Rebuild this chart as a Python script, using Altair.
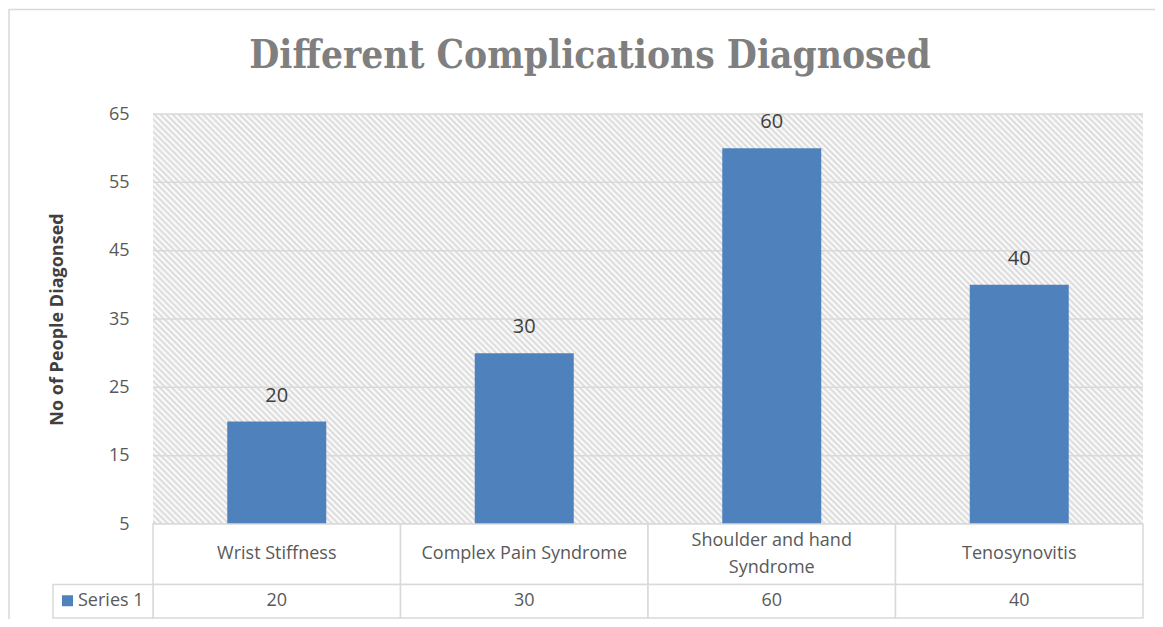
import altair as alt
import pandas as pd

# ---- data ----
categories = ["Wrist Stiffness", "Complex Pain Syndrome", "Shoulder and hand\nSyndrome", "Tenosynovitis"]
values = [20, 30, 60, 40]
series_name = ["Series 1"]
y_ticks = [5, 15, 25, 35, 45, 55, 65]
chart_title = ["Different Complications Diagnosed"]
y_title = "No of People Diagonsed"

# ---- layout / style ----
W, H = 990, 410
FONT = "Open Sans"
BAR = "#4f81bd"
GRID = "#d9d9d9"

# diagonal hatch for the plot background (45 degree "\" stripes)
h = H / W
a = (1 + h) / (1 + h * h)
period = 4.3
n = int(round((W + H) / 2 ** 0.5 / period))
stops = [{"offset": k / (2 * n), "color": "#ffffff" if k % 2 == 0 else "#d8d8d8"} for k in range(2 * n + 1)]
hatch = alt.LinearGradient(gradient="linear", x1=0, y1=1, x2=a, y2=1 - a * h, stops=stops)

df = pd.DataFrame({"cat": categories, "val": values})
one = pd.DataFrame({"s": series_name})
tdf = pd.DataFrame({"t": chart_title})
gdf = pd.DataFrame({"v": y_ticks})

xenc = alt.X("cat:N", sort=categories, scale=alt.Scale(paddingInner=0, paddingOuter=0), axis=None)
yscale = alt.Scale(domain=[5, 65], clamp=True, nice=False, zero=False)
base = alt.Chart(df)

R1_TOP, R1_BOT, R2_BOT = 410, 470.5, 504

border = alt.Chart(one).mark_rect(fill="transparent", stroke=GRID, strokeWidth=1.5).encode(
    x=alt.value(-144), x2=alt.value(1030), y=alt.value(-104.5), y2=alt.value(560)
)

bg = alt.Chart(one).mark_rect(fill=hatch).encode(
    x=alt.value(0), x2=alt.value(W), y=alt.value(0), y2=alt.value(H)
)

grid = alt.Chart(gdf).mark_rule(color=GRID, strokeWidth=1.5).encode(
    y=alt.Y("v:Q", scale=yscale), x=alt.value(0), x2=alt.value(W)
)

bars = base.mark_bar(color=BAR, width=alt.RelativeBandSize(band=0.4)).encode(
    x=xenc,
    y=alt.Y(
        "val:Q",
        scale=yscale,
        axis=alt.Axis(
            values=y_ticks,
            title=y_title,
            titleFont=FONT,
            titleFontWeight="bold",
            titleFontSize=18,
            titleColor="#404040",
            titleX=-96,
            titleY=205,
            titleAngle=270,
            titleAlign="center",
            titleBaseline="middle",
            labelFont=FONT,
            labelFontSize=18,
            labelColor="#595959",
            labelPadding=24,
            ticks=False,
            domain=False,
            grid=False,
        ),
    ),
)

vlabels = base.mark_text(dy=-26, fontSize=20, color="#404040", font=FONT, baseline="middle").encode(
    x=xenc, y="val:Q", text="val:Q"
)

row1 = base.mark_rect(fill="white", stroke=GRID, strokeWidth=1.5).encode(
    x=xenc, y=alt.value(R1_TOP), y2=alt.value(R1_BOT)
)
row2 = base.mark_rect(fill="white", stroke=GRID, strokeWidth=1.5).encode(
    x=xenc, y=alt.value(R1_BOT), y2=alt.value(R2_BOT)
)
scell = alt.Chart(one).mark_rect(fill="white", stroke=GRID, strokeWidth=1.5).encode(
    x=alt.value(-100), x2=alt.value(0), y=alt.value(R1_BOT), y2=alt.value(R2_BOT)
)

r1c = (R1_TOP + R1_BOT) / 2
r2c = (R1_BOT + R2_BOT) / 2

cat_text_1 = base.transform_filter("indexof(datum.cat, '\\n') < 0").mark_text(
    fontSize=18, color="#595959", font=FONT, baseline="middle"
).encode(x=xenc, y=alt.value(r1c), text="cat:N")

cat_text_2 = base.transform_filter("indexof(datum.cat, '\\n') >= 0").mark_text(
    fontSize=18, color="#595959", font=FONT, baseline="middle", lineBreak="\n", lineHeight=27
).encode(x=xenc, y=alt.value(r1c - 13.5), text="cat:N")

val_text = base.mark_text(fontSize=18, color="#595959", font=FONT, baseline="middle").encode(
    x=xenc, y=alt.value(r2c), text="val:Q"
)

swatch = alt.Chart(one).mark_square(size=121, color=BAR, opacity=1).encode(
    x=alt.value(-85.5), y=alt.value(r2c - 0.5)
)
stext = alt.Chart(one).mark_text(
    fontSize=18, color="#595959", font=FONT, align="left", baseline="middle"
).encode(x=alt.value(-75), y=alt.value(r2c), text="s:N")

title = alt.Chart(tdf).mark_text(
    fontSize=38.5,
    fontWeight="bold",
    color="#7f7f7f",
    font="DejaVu Serif Condensed, Liberation Serif",
    align="center",
    baseline="alphabetic",
).encode(x=alt.value(437), y=alt.value(-45.7), text="t:N")

chart = (
    alt.layer(border, bg, grid, bars, vlabels, row1, row2, scell, cat_text_1, cat_text_2,
              val_text, swatch, stext, title)
    .properties(
        width=W,
        height=H,
        padding={"left": 145, "top": 106, "right": 12, "bottom": 95},
        autosize=alt.AutoSizeParams(type="none"),
        background="white",
    )
    .configure_view(stroke="transparent")
)

chart.save("out.html", embed_options={"renderer": "svg", "actions": False})
